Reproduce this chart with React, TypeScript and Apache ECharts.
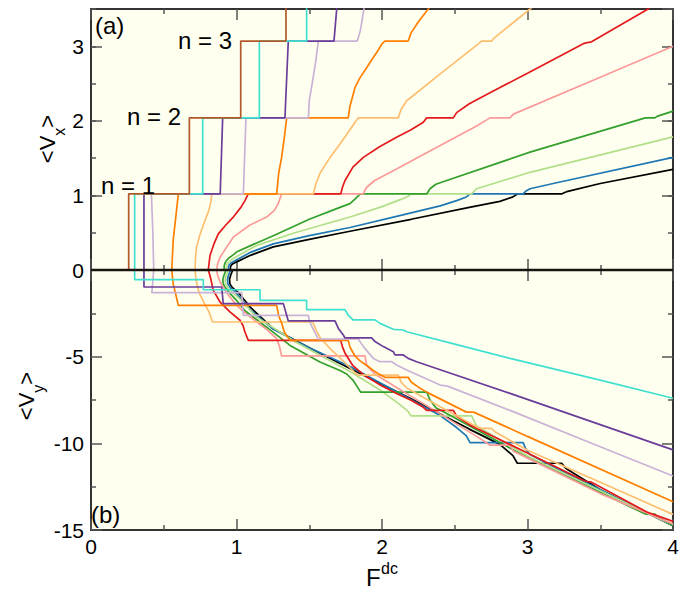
import React, { useEffect, useRef } from "react";
import * as echarts from "echarts";

const FONT = "'Liberation Sans', Arial, Helvetica, sans-serif";

// ---------- axis ticks ----------
const xTicks = [0, 1, 2, 3, 4];
const vxTicks = [0, 1, 2, 3];
const vyTicks = [-15, -10, -5, 0];

// ---------- panel (a): <Vx> vs F ----------
const brownVx = [[0,0],[0.259,0],[0.259,1.02],[0.676,1.02],[0.676,2.04],[1.029,2.04],[1.029,3.07],[1.34,3.07],[1.34,3.6]];
const turquoiseVx = [[0,0],[0.30,0],[0.30,1.02],[0.768,1.02],[0.768,2.04],[1.157,2.04],[1.157,3.07],[1.482,3.07],[1.482,3.6]];
const purpleVx = [[0,0],[0.364,0],[0.364,1.02],[0.888,1.02],[0.905,2.04],[1.333,2.04],[1.356,3.07],[1.67,3.07],[1.693,3.6]];
const lilacVx = [[0,0],[0.431,0],[0.425,0.5],[0.415,1.02],[1.047,1.02],[1.065,2.04],[1.494,2.04],[1.50,2.27],[1.52,2.5],[1.545,2.8],[1.562,3.07],[1.83,3.07],[1.85,3.2],[1.876,3.5],[1.88,3.6]];
const orangeVx = [[0,0],[0.555,0],[0.565,0.4],[0.585,0.75],[0.60,1.02],[1.276,1.02],[1.29,1.3],[1.31,1.51],[1.33,1.8],[1.345,2.04],[1.768,2.04],[1.78,2.2],[1.79,2.27],[1.815,2.45],[1.849,2.58],[1.90,2.73],[1.94,2.85],[1.975,2.95],[1.998,3.03],[2.02,3.07],[2.18,3.07],[2.20,3.18],[2.25,3.33],[2.31,3.48],[2.33,3.53]];
const paleOrangeVx = [[0,0],[0.715,0],[0.718,0.15],[0.725,0.3],[0.745,0.45],[0.775,0.62],[0.81,0.8],[0.825,0.92],[0.83,1.02],[1.528,1.02],[1.545,1.15],[1.575,1.3],[1.643,1.51],[1.711,1.69],[1.78,1.88],[1.815,1.98],[1.837,2.04],[2.112,2.04],[2.13,2.15],[2.17,2.27],[2.40,2.63],[2.66,3.03],[2.685,3.07],[2.754,3.07],[2.77,3.11],[3.005,3.48],[3.03,3.52]];
const redVx = [[0,0],[0.806,0],[0.812,0.1],[0.818,0.195],[0.845,0.35],[0.875,0.485],[0.925,0.6],[0.978,0.71],[1.03,0.84],[1.058,0.93],[1.081,1.02],[1.716,1.02],[1.73,1.12],[1.746,1.2],[1.80,1.38],[1.872,1.51],[1.98,1.65],[2.10,1.78],[2.2,1.88],[2.284,1.98],[2.307,2.04],[2.49,2.04],[2.513,2.11],[2.60,2.23],[2.765,2.40],[3.0,2.64],[3.39,3.04],[3.41,3.05],[3.44,3.06],[3.82,3.49],[3.84,3.52]];
const pinkVx = [[0,0],[0.864,0],[0.87,0.08],[0.887,0.17],[0.93,0.3],[0.978,0.44],[1.09,0.6],[1.207,0.71],[1.26,0.8],[1.287,0.89],[1.31,1.02],[1.872,1.02],[1.88,1.06],[1.895,1.11],[1.95,1.2],[2.10,1.355],[2.4,1.67],[2.65,1.93],[2.742,2.04],[2.88,2.04],[2.903,2.09],[3.5,2.585],[4,3.0]];
const greenVx = [[0,0],[0.915,0],[0.915,0.05],[0.92,0.09],[0.932,0.13],[0.95,0.165],[0.975,0.2],[1.0,0.24],[1.1,0.33],[1.253,0.46],[1.5,0.68],[1.711,0.84],[1.78,0.89],[1.814,0.95],[1.835,0.99],[1.853,1.02],[2.307,1.02],[2.33,1.09],[2.37,1.15],[2.445,1.2],[3.017,1.58],[3.81,2.04],[3.876,2.04],[3.89,2.06],[4,2.13]];
const lightGreenVx = [[0,0],[0.93,0],[0.93,0.045],[0.935,0.08],[0.948,0.11],[0.967,0.14],[1.02,0.2],[1.139,0.33],[1.4,0.5],[1.78,0.71],[2.0,0.85],[2.135,0.95],[2.18,0.99],[2.20,1.02],[2.616,1.02],[2.635,1.06],[2.65,1.09],[2.75,1.15],[3.017,1.31],[4,1.785]];
const blueVx = [[0,0],[0.945,0],[0.945,0.04],[0.95,0.07],[0.963,0.095],[0.98,0.115],[0.995,0.13],[1.1,0.24],[1.253,0.35],[1.5,0.46],[1.78,0.57],[2.1,0.72],[2.4,0.86],[2.513,0.93],[2.58,0.98],[2.605,1.02],[2.97,1.02],[2.99,1.06],[3.017,1.09],[3.2,1.17],[4,1.51]];
const blackVx = [[0,0],[0.958,0],[0.958,0.035],[0.963,0.06],[0.975,0.085],[0.992,0.102],[1.012,0.119],[1.1,0.2],[1.253,0.31],[1.5,0.41],[1.78,0.52],[2.2,0.68],[2.6,0.84],[2.81,0.92],[2.9,0.98],[2.93,1.02],[3.235,1.02],[3.255,1.04],[3.27,1.05],[3.5,1.16],[4,1.35]];

// ---------- panel (b): <Vy> vs F ----------
const brownVy = [[0,0],[4,0]];
const turquoiseVy = [[0,0],[0.30,0],[0.30,-0.56],[0.772,-0.56],[0.772,-1.14],[1.162,-1.14],[1.162,-1.75],[1.482,-1.75],[1.482,-2.29],[1.746,-2.29],[1.768,-2.6],[1.80,-2.88],[1.952,-2.88],[1.986,-3.08],[2.078,-3.42],[2.146,-3.46],[2.17,-3.56],[2.5,-4.28],[2.88,-5.10],[3.5,-6.35],[4,-7.40]];
const purpleVy = [[0,0],[0.364,0],[0.364,-0.98],[0.898,-0.98],[0.909,-1.94],[1.322,-1.94],[1.356,-2.94],[1.677,-2.94],[1.70,-3.37],[1.734,-3.75],[1.746,-3.92],[1.929,-3.92],[1.952,-4.13],[2.009,-4.42],[2.078,-4.71],[2.089,-4.9],[2.146,-4.9],[2.18,-5.1],[2.238,-5.29],[2.88,-7.12],[4,-10.38]];
const lilacVy = [[0,0],[0.431,0],[0.425,-0.65],[0.418,-1.31],[1.036,-1.31],[1.047,-2.62],[1.494,-2.62],[1.50,-2.9],[1.52,-3.3],[1.545,-3.7],[1.562,-3.98],[1.837,-3.98],[1.872,-4.42],[1.94,-5.1],[1.986,-5.29],[2.067,-5.29],[2.10,-5.48],[2.17,-5.77],[2.40,-6.64],[2.45,-6.7],[2.88,-8.1],[3.5,-10.2],[4,-11.88]];
const orangeVy = [[0,0],[0.555,0],[0.565,-0.8],[0.585,-1.5],[0.60,-2.04],[1.276,-2.04],[1.29,-2.65],[1.31,-3.06],[1.33,-3.6],[1.368,-4.06],[1.768,-4.06],[1.78,-4.45],[1.79,-4.6],[1.815,-4.97],[1.849,-5.24],[1.90,-5.54],[1.94,-5.79],[1.975,-5.99],[2.02,-6.19],[2.18,-6.19],[2.20,-6.46],[2.25,-6.76],[2.31,-7.06],[2.58,-8.2],[2.63,-8.2],[3.0,-9.6],[4,-13.37]];
const paleOrangeVy = [[0,0],[0.715,0],[0.72,-0.45],[0.73,-0.9],[0.745,-1.35],[0.775,-1.86],[0.81,-2.4],[0.825,-2.76],[0.835,-3.0],[1.517,-3.0],[1.528,-3.06],[1.545,-3.45],[1.575,-3.9],[1.643,-4.53],[1.711,-5.07],[1.78,-5.64],[1.815,-5.94],[1.837,-6.06],[2.112,-6.06],[2.13,-6.45],[2.17,-6.81],[2.40,-7.89],[2.66,-9.09],[2.685,-9.14],[2.754,-9.14],[2.77,-9.3],[3.0,-10.4],[3.5,-12.25],[4,-14.1]];
const redVy = [[0,0],[0.806,0],[0.815,-0.25],[0.823,-0.5],[0.84,-1.17],[0.887,-1.85],[0.955,-2.42],[1.024,-2.9],[1.045,-3.2],[1.058,-3.58],[1.081,-4.06],[1.716,-4.06],[1.73,-4.48],[1.746,-4.8],[1.80,-5.52],[1.872,-6.04],[1.98,-6.6],[2.10,-7.12],[2.2,-7.52],[2.284,-7.92],[2.307,-8.1],[2.49,-8.1],[2.513,-8.44],[2.60,-8.92],[2.765,-9.6],[3.0,-10.56],[3.39,-12.16],[3.41,-12.2],[3.44,-12.24],[3.82,-13.96],[4,-14.5]];
const pinkVy = [[0,0],[0.864,0],[0.87,-0.3],[0.887,-0.69],[0.94,-1.4],[1.001,-2.04],[1.07,-2.55],[1.139,-3.0],[1.21,-3.45],[1.276,-3.96],[1.295,-4.4],[1.31,-4.95],[1.883,-4.95],[1.895,-5.5],[1.95,-6.0],[2.10,-6.78],[2.4,-8.3],[2.65,-9.6],[2.742,-10.1],[2.88,-10.1],[2.903,-10.45],[3.5,-12.9],[4,-14.65]];
const greenVy = [[0,0],[0.928,0],[0.914,-0.3],[0.906,-0.55],[0.909,-0.8],[0.922,-1.0],[0.94,-1.2],[0.955,-1.35],[1.0,-1.75],[1.058,-2.35],[1.207,-3.3],[1.368,-4.35],[1.574,-5.31],[1.711,-5.8],[1.757,-6.0],[1.80,-6.35],[1.837,-6.83],[1.853,-7.04],[2.307,-7.04],[2.33,-7.5],[2.37,-7.95],[2.445,-8.28],[3.017,-10.9],[3.81,-14.08],[3.876,-14.08],[3.89,-14.2],[4,-14.75]];
const lightGreenVy = [[0,0],[0.944,0],[0.93,-0.3],[0.922,-0.55],[0.925,-0.8],[0.94,-1.0],[0.96,-1.2],[1.02,-1.65],[1.139,-2.72],[1.4,-4.13],[1.78,-5.86],[2.0,-7.0],[2.135,-7.84],[2.18,-8.17],[2.20,-8.42],[2.616,-8.42],[2.635,-8.75],[2.65,-9.0],[2.75,-9.49],[3.017,-10.8],[4,-14.73]];
const blueVy = [[0,0],[0.96,0],[0.945,-0.3],[0.938,-0.55],[0.941,-0.8],[0.955,-1.0],[0.975,-1.15],[0.99,-1.25],[1.1,-2.34],[1.253,-3.42],[1.5,-4.49],[1.78,-5.57],[2.1,-7.03],[2.4,-8.4],[2.513,-9.09],[2.58,-9.57],[2.605,-9.96],[2.97,-9.96],[2.99,-10.36],[3.017,-10.65],[3.2,-11.43],[4,-14.75]];
const blackVy = [[0,0],[0.974,0],[0.96,-0.3],[0.952,-0.55],[0.955,-0.8],[0.97,-1.0],[0.99,-1.15],[1.012,-1.3],[1.1,-2.19],[1.253,-3.39],[1.5,-4.48],[1.78,-5.68],[2.2,-7.43],[2.6,-9.18],[2.81,-10.06],[2.9,-10.71],[2.93,-11.15],[3.235,-11.15],[3.255,-11.37],[3.27,-11.48],[3.5,-12.68],[4,-14.76]];

const zeroLine = [[0,0],[4,0]];

// ---------- drawing order (first = bottom) and colours ----------
const curves = [
  { name: "black", vx: blackVx, vy: blackVy },
  { name: "blue", vx: blueVx, vy: blueVy },
  { name: "lightGreen", vx: lightGreenVx, vy: lightGreenVy },
  { name: "green", vx: greenVx, vy: greenVy },
  { name: "pink", vx: pinkVx, vy: pinkVy },
  { name: "red", vx: redVx, vy: redVy },
  { name: "paleOrange", vx: paleOrangeVx, vy: paleOrangeVy },
  { name: "orange", vx: orangeVx, vy: orangeVy },
  { name: "lilac", vx: lilacVx, vy: lilacVy },
  { name: "purple", vx: purpleVx, vy: purpleVy },
  { name: "turquoise", vx: turquoiseVx, vy: turquoiseVy },
  { name: "brown", vx: brownVx, vy: brownVy },
];

const colors: Record<string, string> = {
  black: "#000000",
  blue: "#1f78b4",
  lightGreen: "#b2df8a",
  green: "#33a02c",
  pink: "#fb9a99",
  red: "#e31a1c",
  paleOrange: "#fdbf6f",
  orange: "#ff7f00",
  lilac: "#cab2d6",
  purple: "#6a3d9a",
  turquoise: "#40e0d0",
  brown: "#b15928",
};

export default function App() {
  const ref = useRef<HTMLDivElement>(null);

  useEffect(() => {
    if (!ref.current) return;
    const chart = echarts.init(ref.current, null, { renderer: "svg" });

    const tickStyle = { color: "#555", width: 1.5 };
    const labelStyle = { fontSize: 21, color: "#000", fontFamily: FONT };

    const xAxisDef = (gridIndex: number, position: string, showLabel: boolean) => ({
      type: "value",
      gridIndex,
      position,
      min: xTicks[0],
      max: xTicks[xTicks.length - 1],
      interval: 1,
      axisLine: { show: false, onZero: false },
      splitLine: { show: false },
      axisTick: { show: true, inside: true, length: 11, lineStyle: tickStyle },
      minorTick: { show: true, splitNumber: 2, length: 5, lineStyle: tickStyle },
      axisLabel: { show: showLabel, margin: 6, ...labelStyle },
    });

    const vxAxisDef = (position: string, major: boolean, showLabel: boolean) => ({
      type: "value",
      gridIndex: 0,
      position,
      min: vxTicks[0],
      max: 3.5,
      interval: major ? 1 : 0.5,
      axisLine: { show: false, onZero: false },
      splitLine: { show: false },
      axisTick: { show: true, inside: true, length: major ? 11 : 5, lineStyle: tickStyle },
      axisLabel: { show: showLabel, showMaxLabel: false, margin: 7, ...labelStyle },
    });

    const vyAxisDef = (position: string, showLabel: boolean) => ({
      type: "value",
      gridIndex: 1,
      position,
      min: vyTicks[0],
      max: vyTicks[vyTicks.length - 1],
      interval: 5,
      axisLine: { show: false, onZero: false },
      splitLine: { show: false },
      axisTick: { show: true, inside: true, length: 11, lineStyle: tickStyle },
      minorTick: { show: true, splitNumber: 2, length: 5, lineStyle: tickStyle },
      axisLabel: { show: showLabel, showMaxLabel: false, margin: 7, ...labelStyle },
    });

    const series: any[] = [];
    curves.forEach((c) => {
      const col = colors[c.name];
      series.push({
        type: "line",
        name: c.name + "Vx",
        xAxisIndex: 0,
        yAxisIndex: 0,
        data: c.vx,
        showSymbol: false,
        symbol: "none",
        silent: true,
        lineStyle: { color: col, width: 1.7 },
        itemStyle: { color: col },
      });
      series.push({
        type: "line",
        name: c.name + "Vy",
        xAxisIndex: 3,
        yAxisIndex: 4,
        data: c.vy,
        showSymbol: false,
        symbol: "none",
        silent: true,
        lineStyle: { color: col, width: 1.7 },
        itemStyle: { color: col },
      });
    });
    series.push({
      type: "line",
      name: "zero",
      xAxisIndex: 0,
      yAxisIndex: 0,
      data: zeroLine,
      showSymbol: false,
      symbol: "none",
      silent: true,
      clip: false,
      z: 5,
      lineStyle: { color: "#1a1410", width: 2.5 },
    });

    const richMain = (size: number, lh: number) => ({ fontSize: size, lineHeight: lh, fontFamily: FONT, fill: "#000" });

    const option: any = {
      animation: false,
      backgroundColor: "#ffffff",
      textStyle: { fontFamily: FONT },
      grid: [
        { left: 91, top: 9, width: 582, height: 261, show: true, backgroundColor: "#fffff0", borderColor: "#333", borderWidth: 2 },
        { left: 91, top: 270, width: 582, height: 260, show: true, backgroundColor: "#fffff0", borderColor: "#333", borderWidth: 2 },
      ],
      xAxis: [
        xAxisDef(0, "bottom", false),
        xAxisDef(0, "top", false),
        xAxisDef(1, "top", false),
        xAxisDef(1, "bottom", true),
      ],
      yAxis: [
        vxAxisDef("left", true, true),
        vxAxisDef("left", false, false),
        vxAxisDef("right", true, false),
        vxAxisDef("right", false, false),
        vyAxisDef("left", true),
        vyAxisDef("right", false),
      ],
      series,
      graphic: [
        { type: "text", left: 95, top: 13, z: 10, style: { text: "(a)", fontSize: 24, fontFamily: FONT, fill: "#000" } },
        { type: "text", left: 91, top: 502, z: 10, style: { text: "(b)", fontSize: 24, fontFamily: FONT, fill: "#000" } },
        { type: "text", left: 178, top: 28, z: 10, style: { text: "n = 3", fontSize: 24, fontFamily: FONT, fill: "#000" } },
        { type: "text", left: 127, top: 104, z: 10, style: { text: "n = 2", fontSize: 24, fontFamily: FONT, fill: "#000" } },
        { type: "text", left: 101, top: 173, z: 10, style: { text: "n = 1", fontSize: 24, fontFamily: FONT, fill: "#000" } },
        {
          type: "text", x: 47, y: 139, rotation: Math.PI / 2, z: 10,
          style: {
            text: "{m|<V}{s|x}{m|>}",
            align: "center", verticalAlign: "middle",
            fontFamily: FONT, fill: "#000",
            rich: {
              m: richMain(22, 40),
              s: { fontSize: 16, lineHeight: 16, verticalAlign: "bottom", fontFamily: FONT, fill: "#000" },
            },
          },
        },
        {
          type: "text", x: 26, y: 396, rotation: Math.PI / 2, z: 10,
          style: {
            text: "{m|<V}{s|y}{m|>}",
            align: "center", verticalAlign: "middle",
            fontFamily: FONT, fill: "#000",
            rich: {
              m: richMain(22, 40),
              s: { fontSize: 16, lineHeight: 16, verticalAlign: "bottom", fontFamily: FONT, fill: "#000" },
            },
          },
        },
        { type: "text", left: 366, top: 565, z: 10, style: { text: "F", fontSize: 24, fontFamily: FONT, fill: "#000" } },
        { type: "text", left: 381, top: 560, z: 10, style: { text: "dc", fontSize: 16, fontFamily: FONT, fill: "#000" } },
      ],
    };

    chart.setOption(option);
    return () => chart.dispose();
  }, []);

  return <div ref={ref} style={{ position: "absolute", left: 0, top: 0, width: 699, height: 589 }} />;
}
